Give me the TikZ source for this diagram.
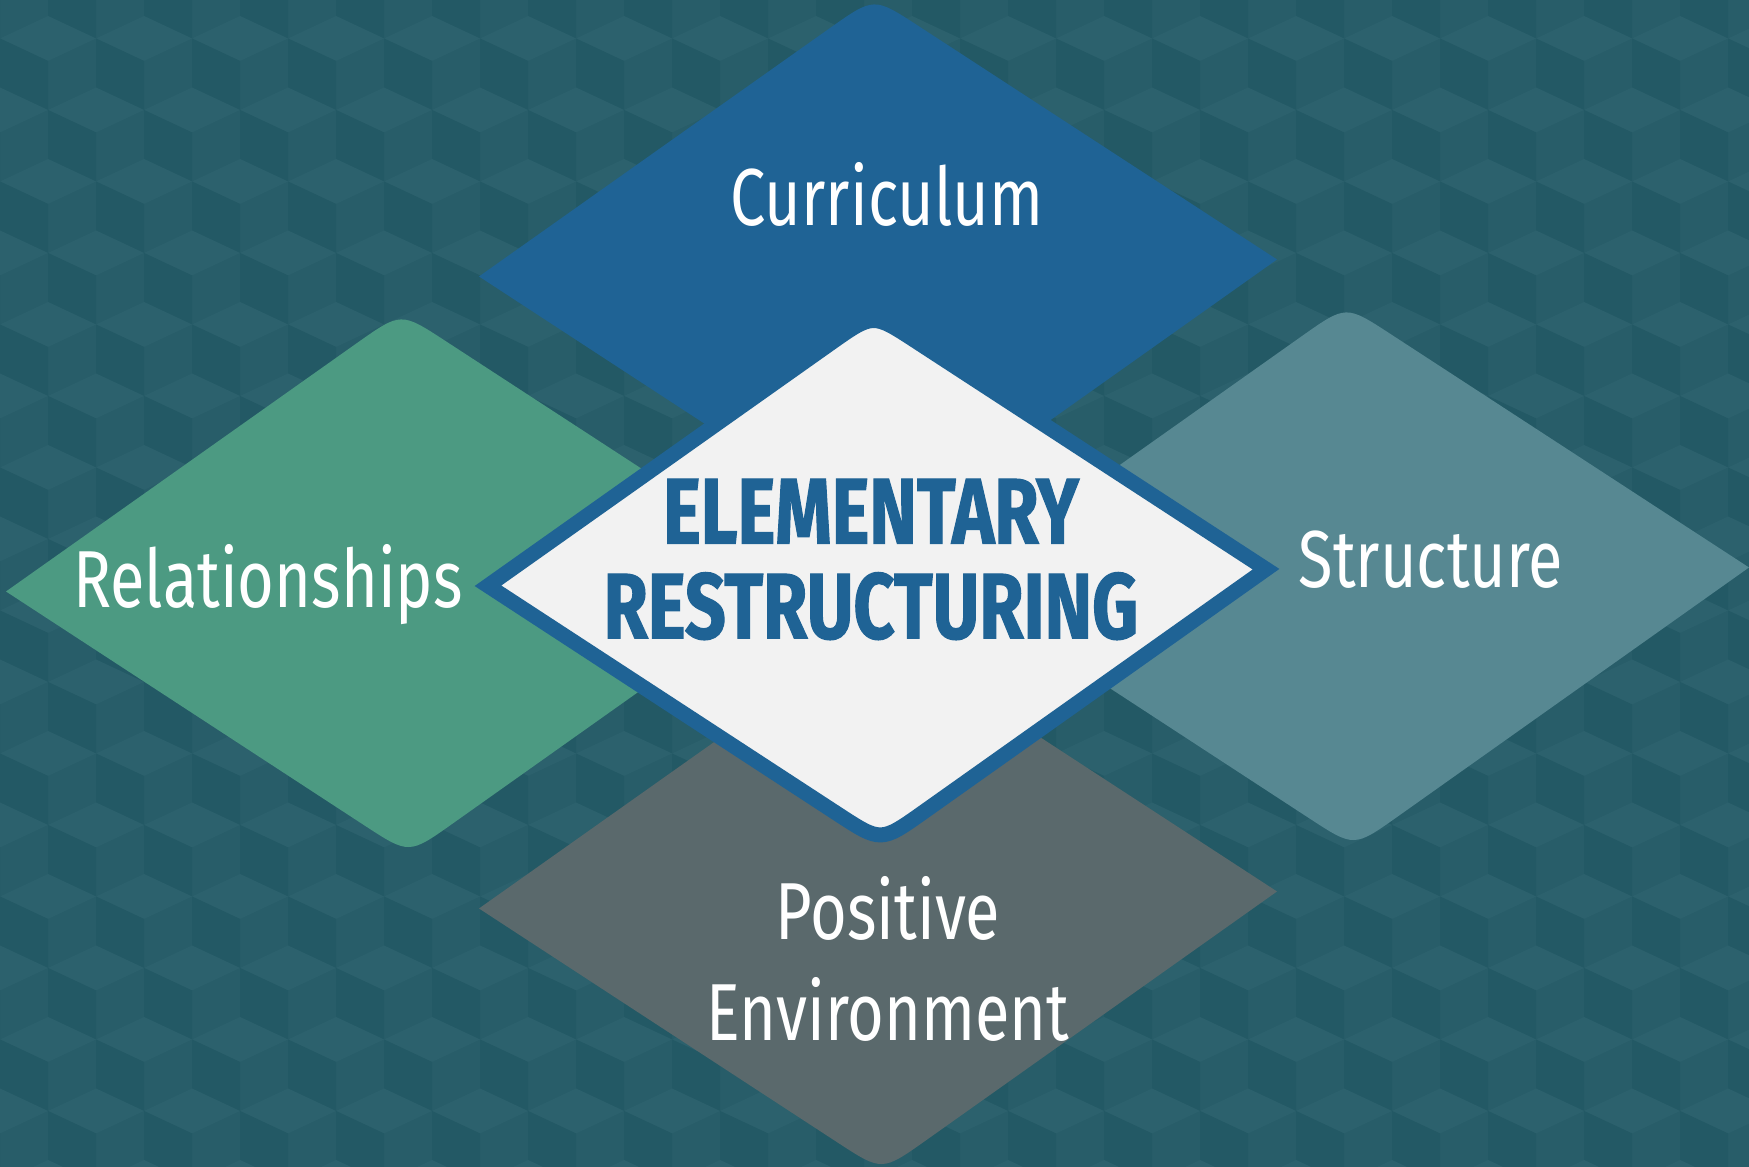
\documentclass[tikz,border=0pt]{standalone}
\usepackage{fontspec}
\usepackage{tikz}
\newfontfamily\facetfont[FakeStretch=0.78]{Fira Sans}
\newfontfamily\corefont[FakeStretch=0.77,FakeBold=1.2]{Fira Sans}
\definecolor{bgbase}{HTML}{285D69}
\definecolor{bgdark}{HTML}{235965}
\definecolor{bglight}{HTML}{2C616D}
\definecolor{curblue}{HTML}{1F6395}
\definecolor{relgreen}{HTML}{4C9A82}
\definecolor{strteal}{HTML}{578892}
\definecolor{envgrey}{HTML}{5A696C}
\definecolor{hubfill}{HTML}{F2F2F2}
\newcommand\gem[3]{%
	\path[shift={(#1,#2)},#3] (-3.99,-0.085) -- (-0.475,2.403) .. controls (-0.04,2.71) .. (0.403,2.421)
		-- (3.99,0.085) -- (0.475,-2.407) .. controls (0.04,-2.715) .. (-0.403,-2.426) -- cycle;}

\begin{document}
\begin{tikzpicture}[
	facet/.style = {text=white, font=\facetfont\fontsize{23}{28.5}\selectfont, inner sep=0pt},
	core/.style = {text=curblue, font=\corefont\bfseries\fontsize{26.5}{27}\selectfont, inner sep=0pt, align=center}]
	\useasboundingbox (0,0) rectangle (17.49,11.67);
	\clip (0,0) rectangle (17.49,11.67);
	\fill[bgbase] (0,0) rectangle (17.49,11.67);
	\foreach \j in {0,...,17}
		\foreach \i in {-1,...,18}{
			\pgfmathsetmacro\x{\i*0.96+mod(\j,2)*0.48}
			\pgfmathsetmacro\y{12-\j*0.715}
			\fill[bglight] (\x-0.48,\y) -- (\x,\y+0.225) -- (\x+0.48,\y) -- (\x,\y-0.225) -- cycle;
			\fill[bgdark] (\x-0.48,\y) -- (\x,\y-0.225) -- (\x,\y-0.715) -- (\x-0.48,\y-0.49) -- cycle;
		}
	\gem{8.78}{8.99}{fill=curblue}
	\gem{8.78}{2.67}{fill=envgrey}
	\gem{4.05}{5.84}{fill=relgreen}
	\gem{13.50}{5.91}{fill=strteal}
	\gem{8.77}{5.895}{scale=0.975, fill=hubfill, draw=curblue, line width=0.15cm}
	\node[facet, anchor=base] (cur) at (8.87,9.41) {Curriculum};
	\node[facet, anchor=base] (rel) at (2.68,5.59) {Relationships};
	\node[facet, anchor=base] (str) at (14.31,5.79) {Structure};
	\node[facet, align=center] (env) at (8.88,2.08) {Positive\\Environment};
	\node[core] (hub) at (8.71,6.075) {ELEMENTARY\\RESTRUCTURING};
\end{tikzpicture}
\end{document}
